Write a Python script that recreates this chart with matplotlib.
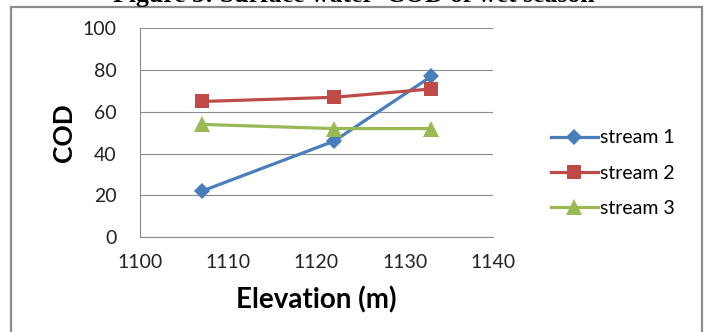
import matplotlib.pyplot as plt
from matplotlib.patches import Rectangle

# Elevation of the sampling points and COD per stream (wet season)
elevation = [1107, 1122, 1133]
stream_1 = [22, 46, 77]
stream_2 = [65, 67, 71]
stream_3 = [54, 52, 52]
series_names = ["stream 1", "stream 2", "stream 3"]

x_ticks = [1100, 1110, 1120, 1130, 1140]
y_ticks = [0, 20, 40, 60, 80, 100]

plt.rcParams['font.family'] = ['Lato', 'DejaVu Sans']

fig = plt.figure(figsize=(7.09, 3.32), dpi=100)
ax = fig.add_axes([0.1975, 0.2861, 0.4978, 0.6281])

styles = [
    dict(color='#4A7EBB', marker='D', markersize=8.5),
    dict(color='#BE4B48', marker='s', markersize=9.5),
    dict(color='#98B954', marker='^', markersize=11),
]
for ys, name, st in zip([stream_1, stream_2, stream_3], series_names, styles):
    ax.plot(elevation, ys, linewidth=2.3, label=name, clip_on=False,
            markeredgewidth=0, **st)

ax.set_xlim(1100, 1140)
ax.set_ylim(0, 100)
ax.set_xticks(x_ticks)
ax.set_yticks(y_ticks)
ax.tick_params(length=0, labelsize=14, colors='#222222')
ax.tick_params(axis='y', pad=17)
ax.tick_params(axis='x', pad=12)
ax.grid(axis='y', color='#8c8c8c', linewidth=0.8)
ax.set_axisbelow(True)
for side in ['top', 'right']:
    ax.spines[side].set_visible(False)
for side in ['left', 'bottom']:
    ax.spines[side].set_color('#8c8c8c')
    ax.spines[side].set_linewidth(0.8)

ax.set_xlabel('Elevation (m)', fontsize=20, fontweight='bold')
ax.set_ylabel('COD', fontsize=19, fontweight='bold')
ax.yaxis.set_label_coords(-0.18, 0.5)
ax.xaxis.set_label_coords(0.5, -0.235)

fig.legend(loc='center left', bbox_to_anchor=(0.752, 0.478), frameon=False,
           fontsize=14, handlelength=2.45, labelspacing=0.95, handletextpad=0.1)

# chart frame, bottom edge runs past the figure
fig.patches.append(Rectangle((11 / 709, -0.1), 691 / 709, 1.1 - 7 / 332,
                             transform=fig.transFigure, fill=False,
                             edgecolor='#8c8c8c', linewidth=1.6))

fig.text(354 / 709, 1 - 2.0 / 332, 'Figure 5: Surface water  COD of wet season',
         ha='center', va='baseline', fontsize=18.5, fontweight='bold',
         family=['Liberation Serif'])

fig.savefig('out.png', dpi=100)
